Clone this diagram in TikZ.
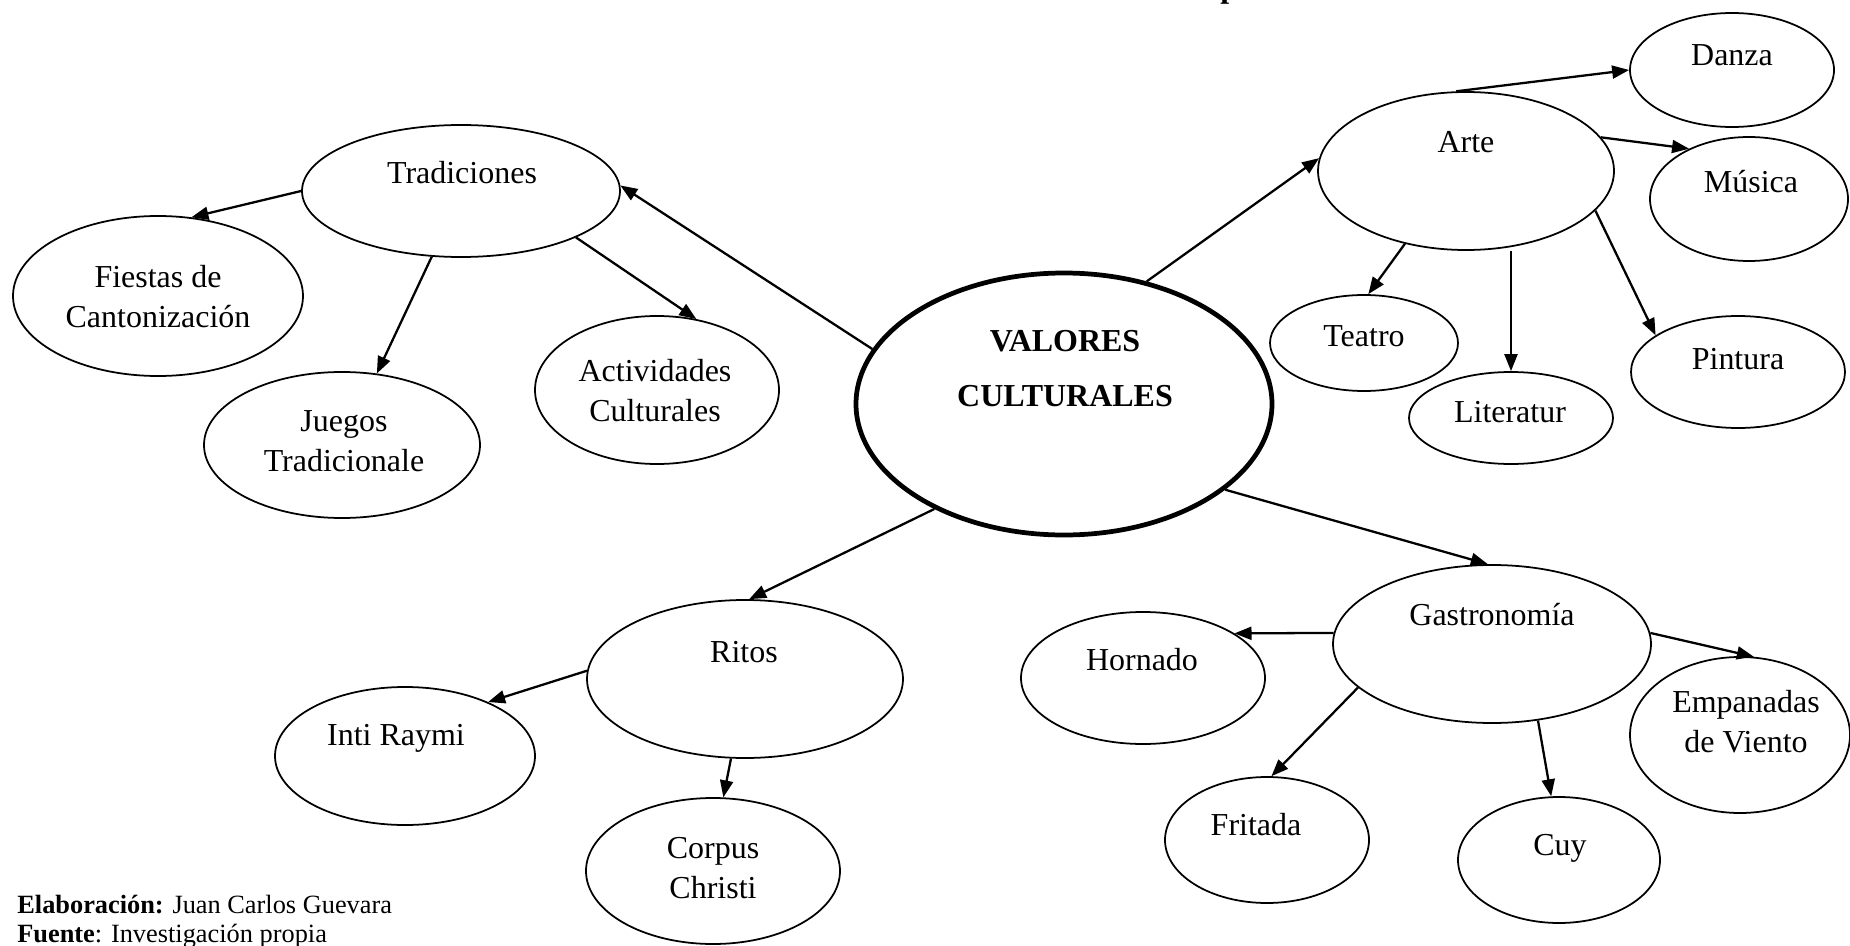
\documentclass[tikz,border=0pt]{standalone}
\usepackage{fontspec}
\setmainfont{Liberation Serif}
\usetikzlibrary{shapes.geometric,arrows.meta}
\begin{document}
\begin{tikzpicture}[x=0.02cm,y=-0.02cm,
  ell/.style={draw, ellipse, line width=1pt, inner sep=0pt},
  sz/.style 2 args={minimum width=#1*0.02cm, minimum height=#2*0.02cm},
  txt/.style={font=\fontsize{18.2pt}{22.8pt}\selectfont, inner sep=0pt, anchor=base},
  mtxt/.style={font=\fontsize{18.2pt}{22.8pt}\selectfont, inner sep=0pt, anchor=center, align=center},
  foot/.style={font=\fontsize{15pt}{18pt}\selectfont, inner sep=0pt, anchor=base west},
  arr/.style={line width=1.3pt, -{Triangle[length=0.34cm,width=0.26cm]}},
]
\useasboundingbox (0,0) rectangle (1850,946);

% ellipses
\node[ell, sz={318}{132}] (trad) at (461,191) {};
\node[ell, sz={290}{160}] (fies) at (158,296) {};
\node[ell, sz={276}{146}] (jueg) at (342,445) {};
\node[ell, sz={244}{148}] (act) at (657,390) {};
\node[ell, sz={416}{262}, line width=2.7pt] (val) at (1064,404) {};
\node[ell, sz={296}{158}] (arte) at (1466,171) {};
\node[ell, sz={204}{114}] (danza) at (1732,70) {};
\node[ell, sz={198}{124}] (musica) at (1749,199) {};
\node[ell, sz={188}{96}] (teatro) at (1364,343) {};
\node[ell, sz={204}{92}] (lit) at (1511,418) {};
\node[ell, sz={214}{112}] (pint) at (1738,372) {};
\node[ell, sz={318}{158}] (gas) at (1492,644) {};
\node[ell, sz={244}{132}] (horn) at (1143,678) {};
\node[ell, sz={220}{156}] (emp) at (1740,735) {};
\node[ell, sz={204}{126}] (frit) at (1267,840) {};
\node[ell, sz={202}{126}] (cuy) at (1559,860) {};
\node[ell, sz={316}{158}] (ritos) at (745,679) {};
\node[ell, sz={260}{138}] (inti) at (405,756) {};
\node[ell, sz={254}{146}] (corp) at (713,871) {};

% texts
\node[txt] (t-trad) at (462,183) {Tradiciones};
\node[mtxt] (t-fies) at (158,297) {Fiestas de\\Cantonización};
\node[mtxt] (t-jueg) at (344,441) {Juegos\\Tradicionale};
\node[mtxt] (t-act) at (655,391) {Actividades\\Culturales};
\node[mtxt, font=\fontsize{18.2pt}{31.3pt}\selectfont\bfseries] (t-val) at (1065,369) {VALORES\\CULTURALES};
\node[txt] (t-arte) at (1466,153) {Arte};
\node[txt] (t-danza) at (1732,66) {Danza};
\node[txt] (t-musica) at (1751,193) {Música};
\node[txt] (t-teatro) at (1364,346) {Teatro};
\node[txt] (t-lit) at (1510,422) {Literatur};
\node[txt] (t-pint) at (1738,369) {Pintura};
\node[txt] (t-gas) at (1492,625) {Gastronomía};
\node[txt] (t-horn) at (1142,670) {Hornado};
\node[mtxt] (t-emp) at (1746,722) {Empanadas\\de Viento};
\node[txt] (t-frit) at (1256,835) {Fritada};
\node[txt] (t-cuy) at (1560,855) {Cuy};
\node[txt] (t-ritos) at (744,662) {Ritos};
\node[txt] (t-inti) at (396,745) {Inti Raymi};
\node[mtxt] (t-corp) at (713,868) {Corpus\\Christi};

% cut-off title fragment
\node[font=\fontsize{18.2pt}{22pt}\selectfont\bfseries, inner sep=0pt, anchor=base west] (t-top) at (1220,-2) {p};

% footer
\node[foot] (elab) at (17,913) {\textbf{Elaboración:} Juan Carlos Guevara};
\node[foot] (fuente) at (17,942) {\textbf{Fuente}: Investigación propia};

% connectors
\draw[arr] (val.164) -- (trad.2);
\draw[arr] (trad.180) -- (fies.67);
\draw[arr] (trad.246) -- (jueg.64);
\draw[arr] (trad.338) -- (act.61);
\draw[arr] (val.56) -- (arte.175);
\draw[arr] (arte.97) -- (danza.180);
\draw[arr] (arte.14) -- (musica.140);
\draw[arr] (arte.230) -- (teatro.85);
\draw[arr] (arte.south -| lit.north) -- (lit.north);
\draw[arr] (arte.343) -- (pint.156);
\draw[arr] (val.332) -- (gas.93);
\draw[arr] (gas.176) -- (horn.26);
\draw[arr] (gas.4) -- (emp.80);
\draw[arr] (gas.198) -- (frit.86);
\draw[arr] (gas.301) -- (cuy.97);
\draw[arr] (val.219) -- (ritos.87);
\draw[arr] (ritos.177) -- (inti.33);
\draw[arr] (ritos.260) -- (corp.82);
\end{tikzpicture}
\end{document}
